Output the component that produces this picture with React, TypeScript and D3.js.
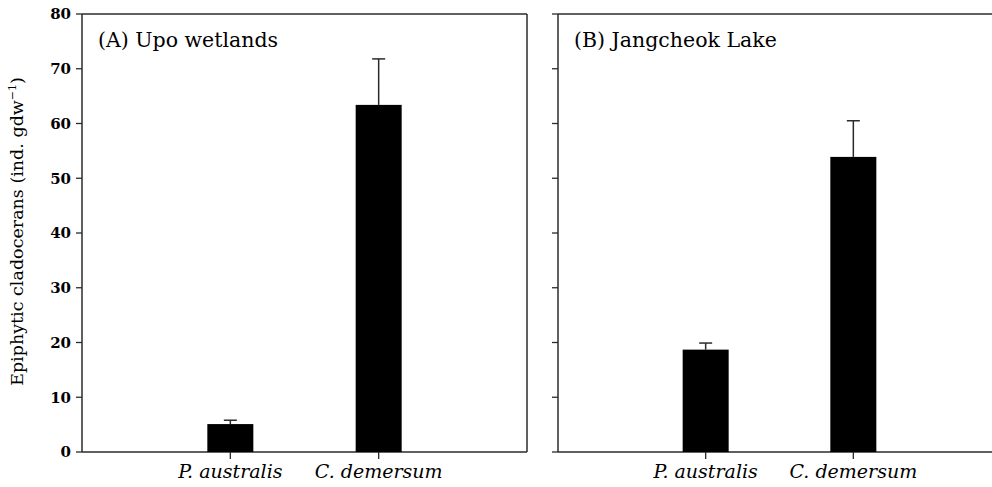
import * as d3 from "d3";

const categories = ["P. australis", "C. demersum"];
const upoMeans = [5.1, 63.4];
const upoErrors = [0.7, 8.4];
const jangMeans = [18.7, 53.9];
const jangErrors = [1.2, 6.6];
const yTicks = [0, 10, 20, 30, 40, 50, 60, 70, 80];

const W = 992;
const H = 487;
const top = 14;
const bottom = 452;
const barW = 46;
const capW = 13;
const ink = "#2b2b2b";
const serif = "'DejaVu Serif', 'Liberation Serif', serif";

const y = d3.scaleLinear().domain([0, 80]).range([bottom, top]);

type PanelProps = {
  left: number;
  right: number;
  title: string;
  means: number[];
  errors: number[];
  labels: boolean;
  rightBorder: boolean;
};

const Panel = ({ left, right, title, means, errors, labels, rightBorder }: PanelProps) => {
  const x = d3.scalePoint<string>().domain(categories).range([left, right]).padding(1);

  return (
    <g>
      {/* frame */}
      <line x1={left} x2={left} y1={top} y2={bottom} stroke={ink} strokeWidth={1.5} />
      <line x1={left} x2={right} y1={top} y2={top} stroke={ink} strokeWidth={1.5} />
      <line x1={left} x2={right} y1={bottom} y2={bottom} stroke={ink} strokeWidth={1.5} />
      {rightBorder && (
        <line x1={right} x2={right} y1={top} y2={bottom} stroke={ink} strokeWidth={1.5} />
      )}

      {/* y ticks */}
      {yTicks.map((t) => (
        <g key={t}>
          <line x1={left - 6} x2={left} y1={y(t)} y2={y(t)} stroke={ink} strokeWidth={1.3} />
          {labels && (
            <text
              x={left - 11}
              y={y(t)}
              dy="0.36em"
              textAnchor="end"
              fontFamily={serif}
              fontWeight="bold"
              fontSize={15}
              fill="#000"
            >
              {t}
            </text>
          )}
        </g>
      ))}

      {/* bars and error bars */}
      {categories.map((c, i) => {
        const cx = x(c)!;
        const hi = means[i] + errors[i];
        return (
          <g key={c}>
            <line x1={cx} x2={cx} y1={y(means[i])} y2={y(hi)} stroke={ink} strokeWidth={1.5} />
            <line x1={cx - capW / 2} x2={cx + capW / 2} y1={y(hi)} y2={y(hi)} stroke={ink} strokeWidth={1.5} />
            <rect x={cx - barW / 2} y={y(means[i])} width={barW} height={y(0) - y(means[i])} fill="#000" />
            <line x1={cx} x2={cx} y1={bottom} y2={bottom + 7} stroke={ink} strokeWidth={1.3} />
            <text
              x={cx}
              y={478}
              textAnchor="middle"
              fontFamily={serif}
              fontStyle="italic"
              fontSize={19}
              fill="#000"
            >
              {c}
            </text>
          </g>
        );
      })}

      <text x={left + 16} y={47} fontFamily={serif} fontSize={20.5} fill="#000">
        {title}
      </text>
    </g>
  );
};

export default function App() {
  return (
    <svg
      width={W}
      height={H}
      style={{ position: "absolute", left: 0, top: 0, background: "#fff" }}
    >
      <Panel
        left={82}
        right={527}
        title="(A) Upo wetlands"
        means={upoMeans}
        errors={upoErrors}
        labels={true}
        rightBorder={true}
      />
      <Panel
        left={558}
        right={1001}
        title="(B) Jangcheok Lake"
        means={jangMeans}
        errors={jangErrors}
        labels={false}
        rightBorder={false}
      />
      <text
        transform={`translate(23, ${(75 + 388) / 2}) rotate(-90)`}
        textAnchor="middle"
        fontFamily={serif}
        fontSize={17.5}
        fill="#000"
      >
        Epiphytic cladocerans (ind. gdw
        <tspan dy={-7} fontSize={11}>−1</tspan>
        <tspan dy={7}>)</tspan>
      </text>
    </svg>
  );
}
